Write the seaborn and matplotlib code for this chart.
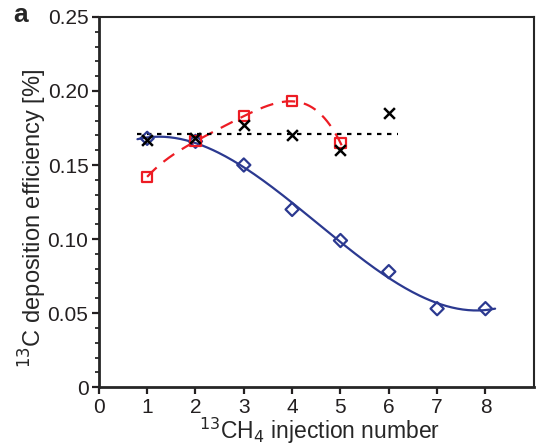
import numpy as np
import pandas as pd
import matplotlib
matplotlib.use("Agg")
import matplotlib.pyplot as plt
import seaborn as sns
from matplotlib.ticker import MultipleLocator

# data
blue_x = [1, 2, 3, 4, 5, 6, 7, 8]
blue_y = [0.168, 0.166, 0.150, 0.120, 0.099, 0.078, 0.053, 0.053]
red_x = [1, 2, 3, 4, 5]
red_y = [0.142, 0.166, 0.183, 0.193, 0.165]
black_x = [1, 2, 3, 4, 5, 6]
black_y = [0.167, 0.168, 0.177, 0.170, 0.160, 0.185]
black_mean = 0.171

sns.set_style("ticks")
plt.rcParams['font.family'] = ['Liberation Sans', 'DejaVu Sans']

fig = plt.figure(figsize=(5.37, 4.45), dpi=100)
ax = fig.add_axes([0.184, 0.130, 0.810, 0.832])

blue = "#2B3990"
red = "#ED1C24"

# fitted curves
bfit = np.polyfit(blue_x, blue_y, 3)
bx = np.linspace(0.8, 8.2, 200)
fit_b = pd.DataFrame({"x": bx, "y": np.polyval(bfit, bx)})
rfit = np.polyfit(red_x, red_y, 4)
rx = np.linspace(1.0, 5.05, 200)
fit_r = pd.DataFrame({"x": rx, "y": np.polyval(rfit, rx)})

sns.lineplot(data=fit_b, x="x", y="y", color=blue, lw=1.6, ax=ax)
sns.lineplot(data=fit_r, x="x", y="y", color=red, lw=1.6, ax=ax)
ax.lines[-1].set_dashes([6, 4])
ax.plot([0.8, 6.2], [black_mean, black_mean], color="black", lw=1.6, ls=(0, (2, 2.5)))

sns.scatterplot(x=blue_x, y=blue_y, marker="D", s=45, facecolor="none",
                edgecolor=blue, linewidth=1.6, ax=ax, zorder=5)
sns.scatterplot(x=red_x, y=red_y, marker="s", s=55, facecolor="none",
                edgecolor=red, linewidth=1.6, ax=ax, zorder=5)
sns.scatterplot(x=black_x, y=black_y, marker="x", s=60, color="black",
                linewidth=1.8, ax=ax, zorder=6)

ax.set_xlim(0, 9)
ax.set_ylim(0, 0.25)
ax.set_xticks(range(0, 9))
ax.set_yticks([0, 0.05, 0.10, 0.15, 0.20, 0.25])
ax.set_yticklabels(["0", "0.05", "0.10", "0.15", "0.20", "0.25"])
ax.yaxis.set_minor_locator(MultipleLocator(0.01))
ax.tick_params(axis="both", which="major", labelsize=15, length=5, width=1.6,
               direction="out", colors="#231F20", pad=2.5)
ax.tick_params(axis="y", which="minor", length=3, width=1.3, direction="out")
for side in ["left", "bottom"]:
    ax.spines[side].set_linewidth(2.0)
for side in ["top", "right"]:
    ax.spines[side].set_linewidth(1.5)
    ax.spines[side].set_visible(True)

ax.set_xlabel("$^{13}$CH$_4$ injection number", fontsize=16.5)
ax.set_ylabel("$^{13}$C deposition efficiency [%]", fontsize=17)
ax.xaxis.set_label_coords(0.508, -0.139)
ax.yaxis.set_label_coords(-0.131, 0.457)
ax.xaxis.label.set_va("baseline")
ax.yaxis.label.set_va("baseline")
fig.text(0.025, 0.950, "a", fontsize=19, fontweight="bold")

fig.savefig("out.png", dpi=100)
